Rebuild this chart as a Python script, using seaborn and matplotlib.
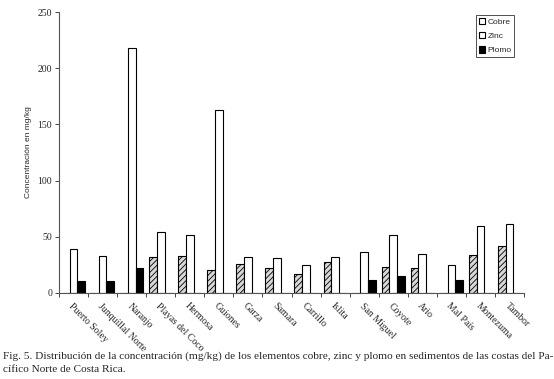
import pandas as pd
import numpy as np
import matplotlib.pyplot as plt
import seaborn as sns

sitios = ["Puerto Soley", "Junquillal Norte", "Naranjo", "Playas del Coco", "Hermosa",
          "Guiones", "Garza", "Samara", "Carrillo", "Islita", "San Miguel", "Coyote",
          "Ario", "Mal País", "Montezuma", "Tambor"]
cobre = [0, 0, 0, 31.6, 33, 20, 25.4, 21.9, 16.8, 28, 0, 22.8, 21.9, 0, 33.4, 41.7]
zinc = [38.7, 33, 218.4, 54.7, 51.8, 163, 31.6, 30.8, 24.8, 31.6, 36.7, 51.8, 35, 25.2, 60, 61.8]
plomo = [10.4, 11, 22, 0, 0, 0, 0, 0, 0, 0, 11.3, 14.8, 0, 11.3, 0, 0]
elementos = ["Cobre", "Zinc", "Plomo"]

df = pd.DataFrame({"sitio": sitios * 3,
                   "elemento": np.repeat(elementos, len(sitios)),
                   "valor": cobre + zinc + plomo})

sns.set_style("white")
plt.rcParams['font.family'] = ['Liberation Serif', 'DejaVu Serif']
plt.rcParams['hatch.linewidth'] = 0.6

fig = plt.figure(figsize=(5.54, 3.79), dpi=100)
ax = fig.add_axes([0.1065, 0.227, 0.8395, 0.741])

sns.barplot(data=df, x="sitio", y="valor", hue="elemento", order=sitios, hue_order=elementos,
            palette=["white", "white", "black"], width=0.8, edgecolor="black", linewidth=0.8,
            errorbar=None, ax=ax)

# copper bars hatched, lead bars solid black
for cont, el in zip(ax.containers, elementos):
    for bar in cont:
        if el == "Cobre":
            bar.set_facecolor("#d8d8d8")
            bar.set_hatch("//////")
        elif el == "Plomo":
            bar.set_facecolor("black")

ax.set_ylim(0, 250)
ax.set_xlim(-0.5, len(sitios) - 0.5)
ax.set_yticks(range(0, 251, 50))
ax.tick_params(axis="y", labelsize=7, length=3, width=0.6, direction="out", left=True, pad=2)
ax.set_xticks(range(len(sitios)))
ax.set_xticklabels(sitios, rotation=-45, ha="left", rotation_mode="anchor", fontsize=7)
ax.tick_params(axis="x", length=0, pad=6)
ax.set_xticks(np.arange(-0.5, len(sitios), 1), minor=True)
ax.tick_params(axis="x", which="minor", length=3, width=0.6, direction="out", bottom=True)
ax.set_xlabel("")
ax.set_ylabel("Concentración en mg/kg", family=["Liberation Sans"], fontsize=6, labelpad=4)

for side in ["top", "right"]:
    ax.spines[side].set_visible(False)
for side in ["left", "bottom"]:
    ax.spines[side].set_color("#555555")
    ax.spines[side].set_linewidth(0.8)

handles, labels = ax.get_legend_handles_labels()
ax.legend(handles, labels, loc="upper left", bbox_to_anchor=(476 / 554, 1 - 15 / 379),
          bbox_transform=fig.transFigure, frameon=True, fancybox=False, edgecolor="black",
          prop={"family": "Liberation Sans", "size": 6}, handlelength=0.8, handleheight=0.8,
          handletextpad=0.25, borderpad=0.3, labelspacing=0.75, borderaxespad=0)
ax.get_legend().get_frame().set_linewidth(0.6)

fig.text(0.006, 0.014,
         "Fig. 5. Distribución de la concentración (mg/kg) de los elementos cobre, zinc y plomo en sedimentos de las costas del Pa-\n"
         "cífico Norte de Costa Rica.",
         fontsize=8.1, ha="left", va="bottom", linespacing=1.5)

fig.savefig("out.png", dpi=100)
